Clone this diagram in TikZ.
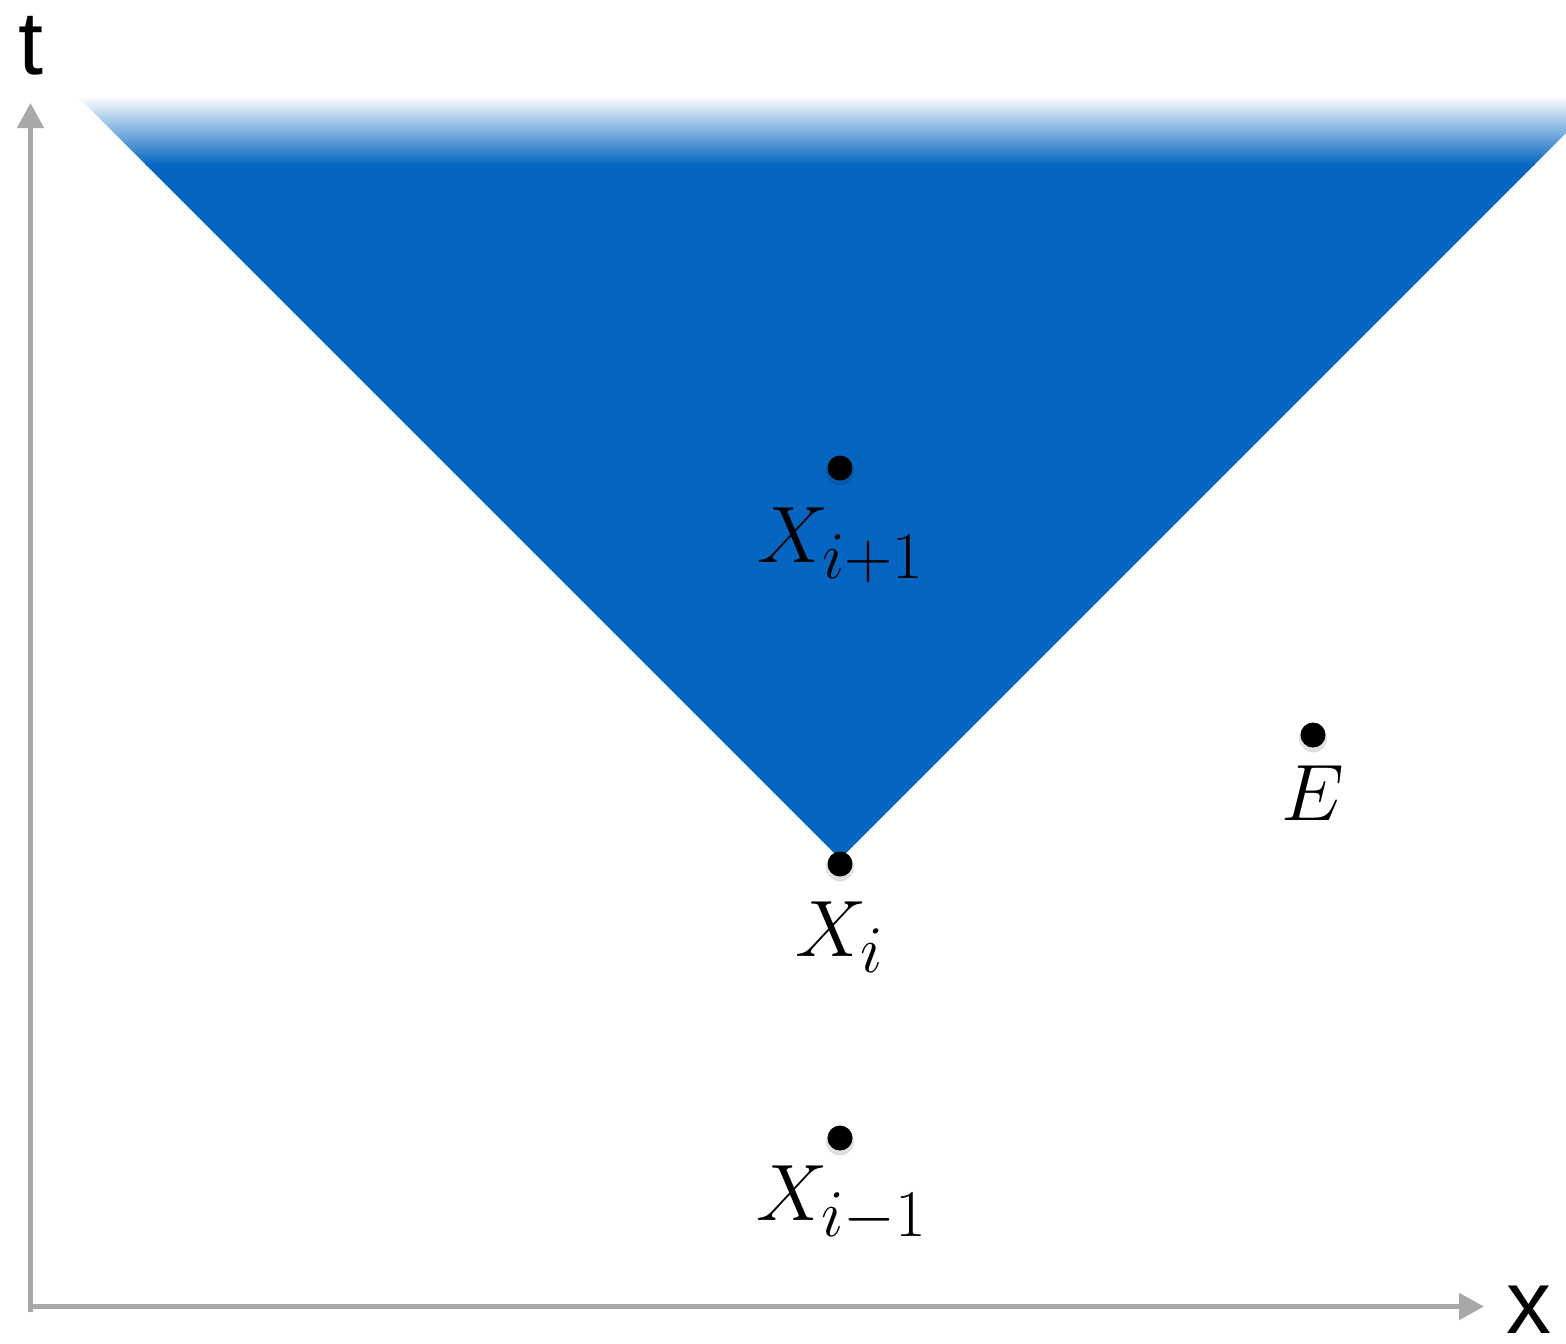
\documentclass[tikz,border=0pt]{standalone}
\usepackage{fontspec}
\setsansfont{Liberation Sans}
\DeclareMathSizes{20.74}{20.74}{17.28}{14.4}
\usetikzlibrary{arrows.meta}
\definecolor{conecol}{HTML}{0566C1}
\definecolor{axiscol}{HTML}{A7A9A7}
\tikzset{
  dot/.style={circle, fill=black, inner sep=0pt, minimum size=12.5pt},
  dotshadow/.style={circle, fill=black, opacity=0.12, inner sep=0pt, minimum size=14pt},
  mathlabel/.style={anchor=base, inner sep=0pt, scale=1.93, font=\fontsize{20.74}{25}\selectfont},
  axislabel/.style={inner sep=0pt, font=\sffamily\fontsize{45}{54}\selectfont},
  axisline/.style={draw=axiscol, line width=2.5pt, -{Triangle[length=12.5pt,width=13pt]}}
}
\begin{document}
\begin{tikzpicture}[x=0.5pt, y=-0.5pt]
\useasboundingbox (0,0) rectangle (1566,1343);
% cone
\coordinate (apex) at (840,859);
\begin{scope}
  \clip (apex) -- (78,97) -- (1566,97) -- (1566,133) -- cycle;
  \fill[conecol] (0,164) rectangle (1566,900);
  \shade[top color=white, bottom color=conecol] (0,96) rectangle (1566,165);
\end{scope}
% axes
\coordinate (origin) at (30.5,1306.5);
\coordinate (vbottom) at (30.5,1312);
\coordinate (ttip) at (30.5,103);
\coordinate (xtip) at (1484,1306.5);
\draw[axisline] (vbottom) -- (ttip);
\draw[axisline] (origin) -- (xtip);
\node[axislabel, anchor=base] (tlab) at (31,75) {t};
\node[axislabel, anchor=base] (xlab) at (1529,1333) {x};
% dot shadows
\node[dotshadow] at (840,471.5) {};
\node[dotshadow] at (1313,738.5) {};
\node[dotshadow] at (840,867.5) {};
\node[dotshadow] at (840,1141.5) {};
% dots
\node[dot] (xip) at (840,468) {};
\node[dot] (e) at (1313,735) {};
\node[dot] (xi) at (840,864) {};
\node[dot] (xim) at (840,1138) {};
% labels
\node[mathlabel] (lxip) at (841,562) {$X_{i+1}$};
\node[mathlabel] (le) at (1313,820) {$E$};
\node[mathlabel] (lxi) at (840,956) {$X_i$};
\node[mathlabel] (lxim) at (842,1220) {$X_{i-1}$};
\end{tikzpicture}
\end{document}
